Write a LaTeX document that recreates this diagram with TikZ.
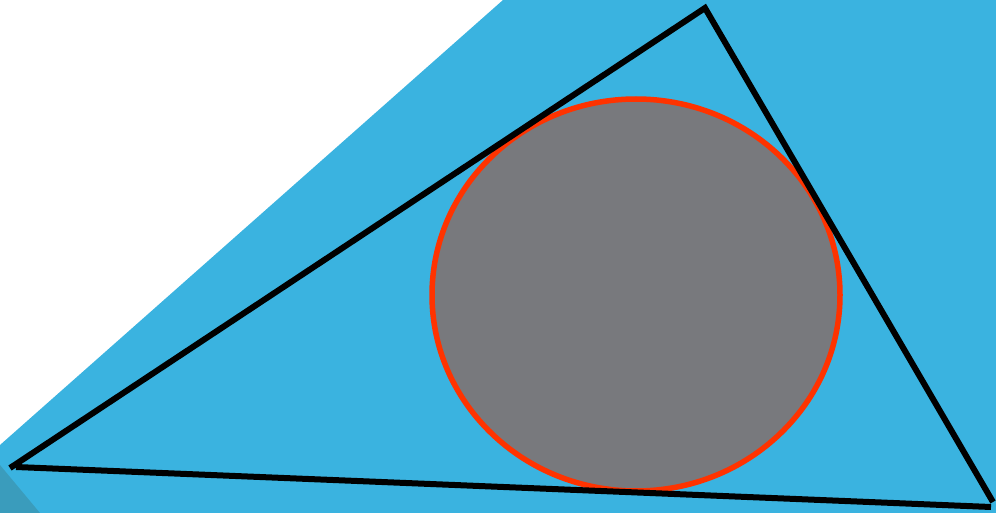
\documentclass[tikz,border=0pt]{standalone}
\usepackage{tikz}

\definecolor{skyblue}{HTML}{3AB3E0}
\definecolor{deepblue}{HTML}{3A9CBC}
\definecolor{discgray}{HTML}{78797D}
\definecolor{rimred}{HTML}{FF3300}

\begin{document}
\begin{tikzpicture}[x=1pt, y=-1pt,
 edge/.style={line width=6pt, black},
 rim/.style={line width=5.5pt, draw=rimred, fill=discgray}]
\useasboundingbox (0,0) rectangle (996,513);
% background
\fill[skyblue] (503,0) -- (996,0) -- (996,513) -- (0,513) -- (0,445) -- cycle;
\fill[deepblue] (0,465) -- (40,513) -- (0,513) -- cycle;
% incircle
\draw[rim] (636,295) ellipse [x radius=204, y radius=196];
% triangle
\coordinate (A) at (10,468);
\coordinate (B) at (705,8);
\coordinate (C) at (993,502);
\coordinate (A2) at (16,467);
\coordinate (C2) at (991,507);
\draw[edge] (A) -- (B) -- (C);
\draw[edge] (A2) -- (C2);
\end{tikzpicture}
\end{document}
